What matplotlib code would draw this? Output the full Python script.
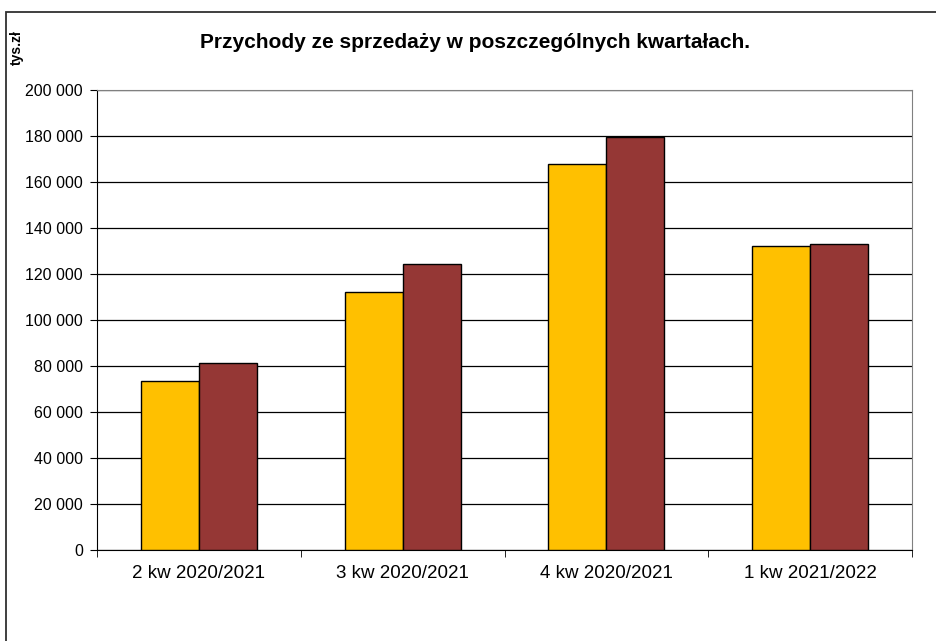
import matplotlib.pyplot as plt
from matplotlib.patches import Rectangle
import numpy as np

plt.rcParams['font.family'] = ['Liberation Sans', 'DejaVu Sans']

kwartaly = ['2 kw 2020/2021', '3 kw 2020/2021', '4 kw 2020/2021', '1 kw 2021/2022']
seria_1 = [73600, 112300, 168000, 132300]
seria_2 = [81200, 124200, 179700, 133200]
y_ticks = list(range(0, 200001, 20000))

W, H = 936, 641
fig = plt.figure(figsize=(W / 100, H / 100), dpi=100)
ax = fig.add_axes([97 / W, 1 - 550 / H, (912 - 97) / W, (550 - 90) / H])

# outer chart frame (cut off at right and bottom)
fig.patches.append(Rectangle((6 / W, -0.1), 1.2, 1 - 11.5 / H + 0.1,
                             transform=fig.transFigure, fill=False,
                             edgecolor='#303030', linewidth=1.3))

x = np.arange(len(kwartaly))
bw = 0.285
ax.bar(x - bw / 2, seria_1, bw, color='#FFC000', edgecolor='black', linewidth=1, zorder=3)
ax.bar(x + bw / 2, seria_2, bw, color='#953735', edgecolor='black', linewidth=1, zorder=3)

ax.set_xlim(-0.5, len(kwartaly) - 0.5)
ax.set_ylim(0, 200000)
ax.set_yticks(y_ticks)
ax.set_yticklabels([f'{v:,}'.replace(',', ' ') for v in y_ticks])
ax.yaxis.grid(True, color='black', linewidth=0.9, zorder=0)

ax.set_xticks(x)
ax.set_xticklabels(kwartaly)
ax.set_xticks(np.arange(-0.5, len(kwartaly)), minor=True)
ax.tick_params(axis='x', which='major', length=0, pad=10.5, labelsize=13.5)
ax.tick_params(axis='x', which='minor', length=5, direction='out')
ax.tick_params(axis='y', length=5, direction='out', labelsize=11.5, pad=5)

for s in ['top', 'right']:
    ax.spines[s].set_color('#808080')
for s in ['left', 'bottom']:
    ax.spines[s].set_color('black')

fig.text(474.5 / W, 1 - 48 / H, 'Przychody ze sprzedaży w poszczególnych kwartałach.',
         ha='center', va='baseline', fontsize=15, fontweight='bold')
fig.text(17 / W, 1 - 48 / H, 'tys.zł', rotation=90, ha='center', va='center',
         fontsize=10, fontweight='bold')

fig.savefig('out.png', dpi=100)
